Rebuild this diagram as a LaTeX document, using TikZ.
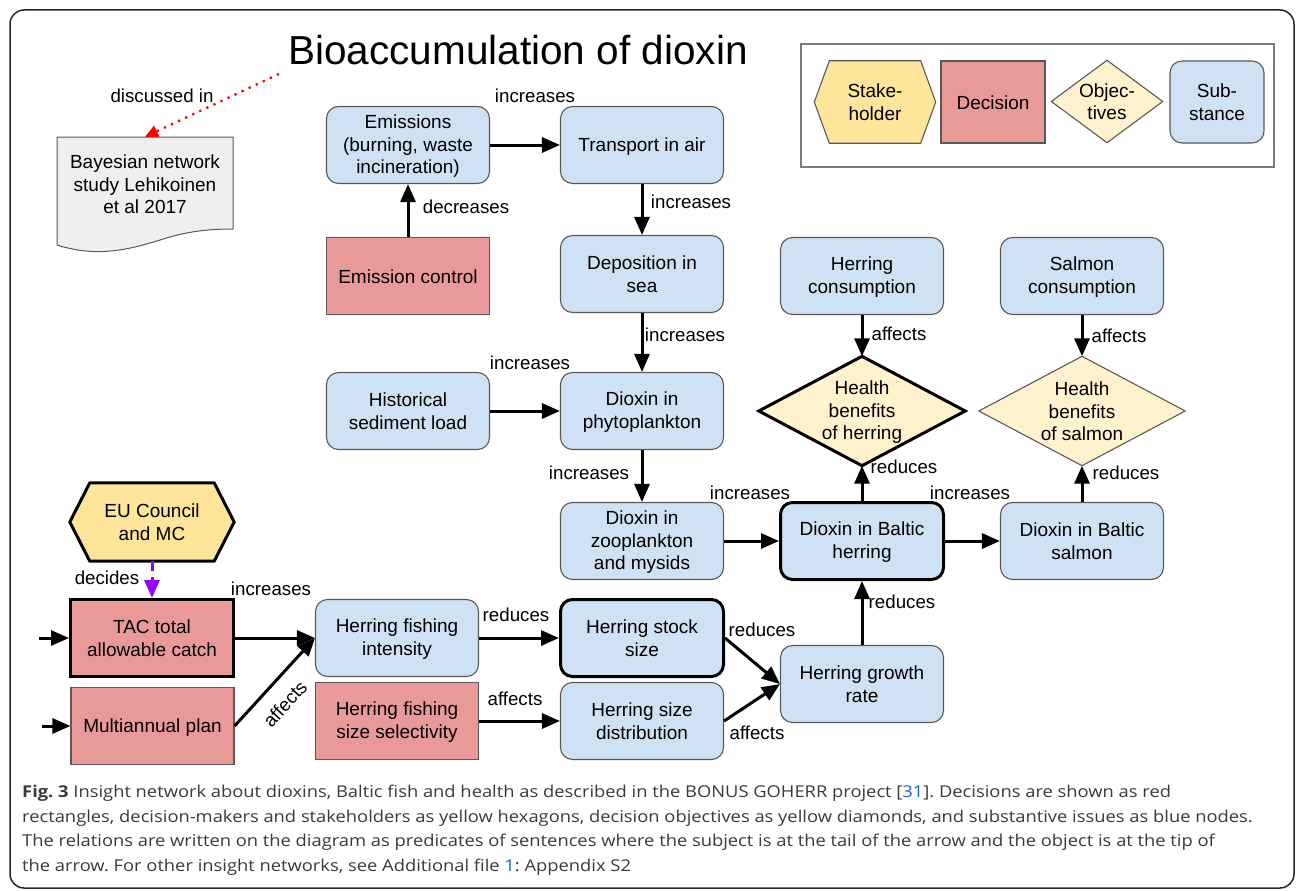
\documentclass[tikz,border=0pt]{standalone}
\usepackage{fontspec}
\setmainfont{Liberation Sans}
\newfontfamily\capfont{Open Sans}[FakeStretch=1.125]
\usetikzlibrary{arrows.meta,backgrounds}

\definecolor{subblue}{HTML}{CFE2F3}
\definecolor{decred}{HTML}{EA9999}
\definecolor{stakeyel}{HTML}{FFE599}
\definecolor{objyel}{HTML}{FFF2CC}
\definecolor{docgray}{HTML}{EFEFEF}
\definecolor{edgegray}{HTML}{595959}
\definecolor{legendgray}{HTML}{7A7A7A}
\definecolor{capgray}{HTML}{3A3A3A}
\definecolor{reflink}{HTML}{1A5FD0}
\definecolor{decidepurple}{HTML}{9900FF}

% outline helpers: a hexagon or a diamond drawn around a text-only node
\newcommand\hexaround[3]{%
  \draw[#3] ([xshift=#2pt]#1.north west) -- ([xshift=-#2pt]#1.north east) -- (#1.east)
    -- ([xshift=-#2pt]#1.south east) -- ([xshift=#2pt]#1.south west) -- (#1.west) -- cycle;}
\newcommand\diaaround[2]{%
  \draw[#2] (#1.north) -- (#1.east) -- (#1.south) -- (#1.west) -- cycle;}
% fixed line strut for the first and last line of box texts
\newcommand\ls{\rule[-2pt]{0pt}{18pt}}

\begin{document}
\begin{tikzpicture}[x=1pt,y=-1pt,
  every node/.style={font=\fontsize{19}{22.5}\selectfont, inner sep=0pt, align=center},
  box/.style={minimum width=163pt, minimum height=77pt},
  sub/.style={box, rounded corners=12pt, fill=subblue, draw=edgegray, line width=1.1pt},
  dec/.style={box, fill=decred, draw=edgegray, line width=1.1pt},
  strong/.style={draw=black, line width=3pt},
  lbl/.style={font=\fontsize{18.7}{22}\selectfont},
  arr/.style={line width=3pt, -{Triangle[length=18pt,width=15pt]}},
  decide/.style={line width=3pt, draw=decidepurple, dash pattern=on 10pt off 6pt,
    -{Triangle[length=18pt,width=15pt]}},
  discuss/.style={line width=2.3pt, draw=red, dash pattern=on 2.3pt off 5.5pt,
    -{Triangle[length=13pt,width=12pt]}},
  capline/.style={anchor=base west, font=\capfont\frenchspacing\fontsize{16.3}{24.4}\selectfont,
    text=capgray, align=left},
]
\useasboundingbox (0,0) rectangle (1296,891);

% outer frame
\draw[line width=1.5pt, draw=black!85, rounded corners=14pt] (10,10) rectangle (1294,888);

% title and the document it points to
\node[font=\fontsize{40.5}{48}\selectfont] (title) at (518,50) {Bioaccumulation of dioxin};
\coordinate (dstart) at (279,74);
\draw[draw=edgegray, line width=1pt, fill=docgray]
  (57,137) -- (233,137) -- (233,229)
  .. controls (205,229) and (185,232) .. (160,240)
  .. controls (125,251) and (95,257) .. (57,245) -- cycle;
\node[minimum width=176pt, minimum height=94pt] (doc) at (145,184)
  {\ls Bayesian network\\study Lehikoinen\\et al 2017\ls};
\node[lbl] (ldisc) at (162,96) {discussed in};

% legend
\draw[draw=legendgray, line width=1.5pt] (801,44) rectangle (1274,167);
\node[minimum width=121pt, minimum height=82pt] (lstake) at (875,102) {\ls Stake-\\holder\ls};
\node[dec, minimum width=104pt, minimum height=82pt] (ldec) at (993,102) {\ls Decision\ls};
\node[minimum width=111pt, minimum height=82pt] (lobj) at (1107,101.5) {\ls Objec-\\tives\ls};
\node[sub, minimum width=94pt, minimum height=82pt] (lsub) at (1217,102) {\ls Sub-\\stance\ls};

% substance, decision, objective and stakeholder nodes
\node[sub] (emis) at (408,145) {\ls Emissions\\(burning, waste\\incineration)\ls};
\node[sub] (trans) at (642,145) {\ls Transport in air\ls};
\node[dec] (ectrl) at (408,276) {\ls Emission control\ls};
\node[sub] (depo) at (642,274) {\ls Deposition in\\sea\ls};
\node[sub] (hist) at (408,411) {\ls Historical\\sediment load\ls};
\node[sub] (phyto) at (642,411) {\ls Dioxin in\\phytoplankton\ls};
\node[sub] (zoo) at (642,541) {\ls Dioxin in\\zooplankton\\and mysids\ls};
\node[sub, strong] (bherr) at (862,541) {\ls Dioxin in Baltic\\herring\ls};
\node[sub] (bsalm) at (1082,541) {\ls Dioxin in Baltic\\salmon\ls};
\node[sub] (hcons) at (862,276) {\ls Herring\\consumption\ls};
\node[sub] (scons) at (1082,276) {\ls Salmon\\consumption\ls};
\node[minimum width=206pt, minimum height=109pt] (hbh) at (862,411) {\ls Health\\benefits\\of herring\ls};
\node[minimum width=206pt, minimum height=109pt] (hbs) at (1082,411) {\ls Health\\benefits\\of salmon\ls};
\node[minimum width=164pt, minimum height=78pt] (eu) at (152,522) {\ls EU Council\\and MC\ls};
\node[dec, strong] (tac) at (152,638) {\ls TAC total\\allowable catch\ls};
\node[dec] (map) at (152.5,726) {\ls Multiannual plan\ls};
\node[sub] (fint) at (397,638) {\ls Herring fishing\\intensity\ls};
\node[dec] (fsel) at (397,721) {\ls Herring fishing\\size selectivity\ls};
\node[sub, strong] (stock) at (642,638) {\ls Herring stock\\size\ls};
\node[sub] (sdist) at (642,721) {\ls Herring size\\distribution\ls};
\node[sub] (growth) at (862,684) {\ls Herring growth\\rate\ls};

% hexagon and diamond outlines behind their texts
\begin{scope}[on background layer]
  \hexaround{lstake}{15}{fill=stakeyel, draw=edgegray, line width=1.1pt}
  \diaaround{lobj}{fill=objyel, draw=edgegray, line width=1.1pt}
  \hexaround{eu}{20}{fill=stakeyel, draw=black, line width=3pt, line join=round}
  \diaaround{hbh}{fill=objyel, draw=black, line width=3pt}
  \diaaround{hbs}{fill=objyel, draw=edgegray, line width=1.1pt}
\end{scope}

% free ends of the inputs on the left
\coordinate (tacin) at (39,638);
\coordinate (mapin) at (42,726);

% relations
\draw[discuss] (dstart) -- (doc.north);
\draw[arr] (emis) -- (trans);
\draw[arr] (ectrl) -- (emis);
\draw[arr] (trans) -- (depo);
\draw[arr] (depo) -- (phyto);
\draw[arr] (hist) -- (phyto);
\draw[arr] (phyto) -- (zoo);
\draw[arr] (zoo) -- (bherr);
\draw[arr] (bherr) -- (bsalm);
\draw[arr] (hcons) -- (hbh);
\draw[arr] (scons) -- (hbs);
\draw[arr] (bherr) -- (hbh);
\draw[arr] (bsalm) -- (hbs);
\draw[arr] (growth) -- (bherr);
\draw[arr] (stock.east) -- (growth.west);
\draw[arr] (sdist.east) -- (growth.west);
\draw[arr] (fint) -- (stock);
\draw[arr] (fsel) -- (sdist);
\draw[arr] (tac) -- (fint);
\draw[arr] (map.east) -- (fint.west);
\draw[decide] (eu) -- (tac);
\draw[arr] (tacin) -- (tac);
\draw[arr] (mapin) -- (map);

% relation labels
\node[lbl] (r1) at (535,96) {increases};
\node[lbl] (r2) at (466,207) {decreases};
\node[lbl] (r3) at (691,202) {increases};
\node[lbl] (r4) at (685,335) {increases};
\node[lbl] (r5) at (530,363) {increases};
\node[lbl] (r6) at (589,473) {increases};
\node[lbl] (r7) at (750,493) {increases};
\node[lbl] (r8) at (970,493) {increases};
\node[lbl] (r9) at (899,334) {affects};
\node[lbl] (r10) at (1119,336) {affects};
\node[lbl] (r11) at (904,467) {reduces};
\node[lbl] (r12) at (1126,473) {reduces};
\node[lbl] (r13) at (902,602) {reduces};
\node[lbl] (r14) at (762,630) {reduces};
\node[lbl] (r15) at (757,733) {affects};
\node[lbl] (r16) at (516,615) {reduces};
\node[lbl] (r17) at (515,699) {affects};
\node[lbl] (r18) at (271,589) {increases};
\node[lbl, rotate=48] (r19) at (285,704) {affects};
\node[lbl] (r20) at (107,578) {decides};

% caption
\node[capline] (cap1) at (22,797.5) {\textbf{Fig. 3} Insight network about dioxins, Baltic fish and health as described in the BONUS GOHERR project [\textcolor{reflink}{31}]. Decisions are shown as red};
\node[capline] (cap2) at (22,822) {rectangles, decision-makers and stakeholders as yellow hexagons, decision objectives as yellow diamonds, and substantive issues as blue nodes.};
\node[capline] (cap3) at (22,846.5) {The relations are written on the diagram as predicates of sentences where the subject is at the tail of the arrow and the object is at the tip of};
\node[capline] (cap4) at (22,871) {the arrow. For other insight networks, see Additional file \textcolor{reflink}{1}: Appendix S2};
\end{tikzpicture}
\end{document}
